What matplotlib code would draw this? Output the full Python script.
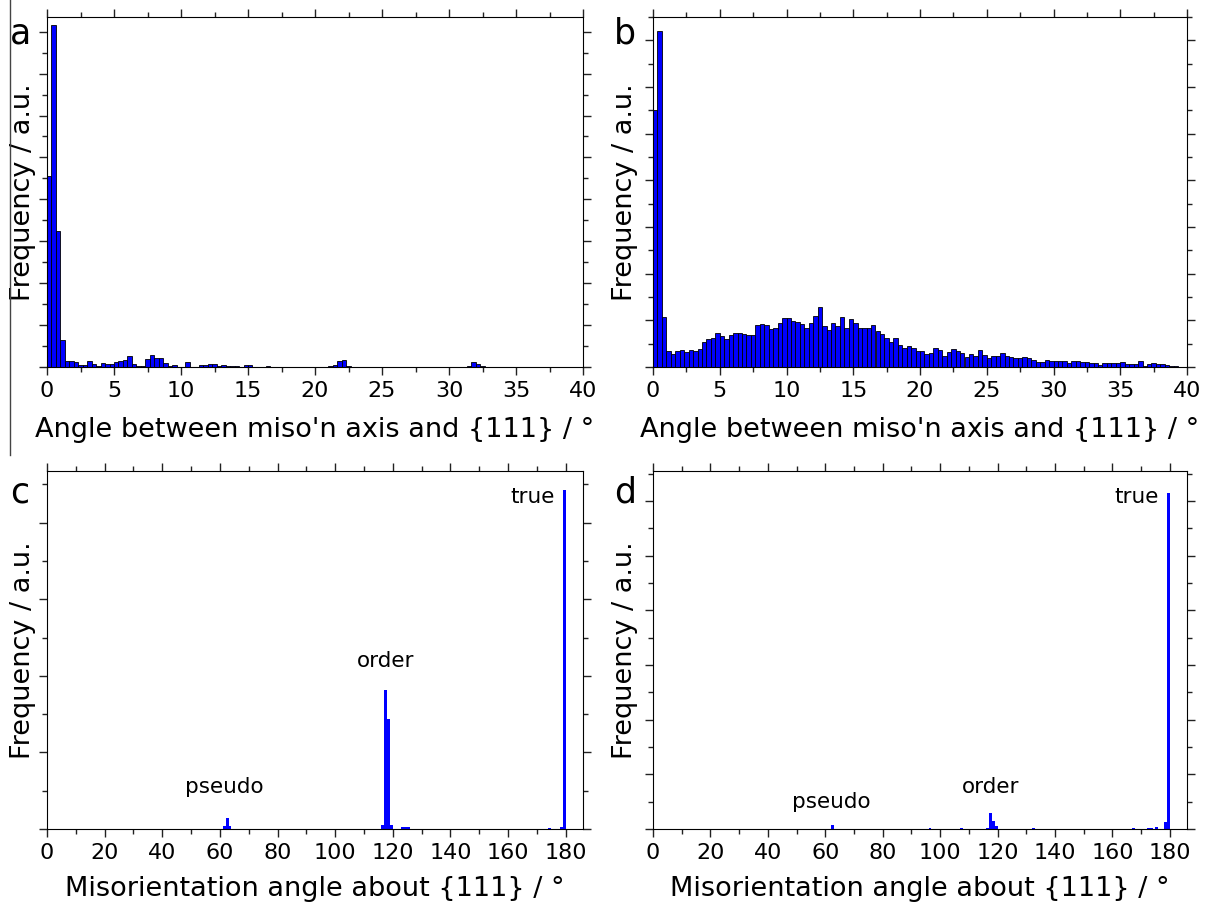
import numpy as np
import matplotlib.pyplot as plt
from matplotlib.ticker import MultipleLocator
from matplotlib.lines import Line2D

# Panel a/b: 1/3 degree bins from 0 to 40 (heights in minor-tick units)
freq_a = [
    9.1, 16.3, 6.5, 1.3, 0.29, 0.27, 0.22, 0.11, 0.11, 0.27,
    0.13, 0.04, 0.18, 0.15, 0.15, 0.24, 0.29, 0.35, 0.51, 0.13,
    0.07, 0.07, 0.36, 0.56, 0.42, 0.42, 0.20, 0.04, 0.11, 0.02,
    0.0, 0.24, 0.02, 0.0, 0.09, 0.11, 0.15, 0.16, 0.04, 0.11,
    0.07, 0.05, 0.04, 0.0, 0.09, 0.11, 0.02, 0.0, 0.02, 0.04,
    0.02, 0.0, 0.0, 0.0, 0.0, 0.0, 0.0, 0.02, 0.02, 0.0,
    0.0, 0.0, 0.02, 0.04, 0.11, 0.27, 0.33, 0.04, 0.0, 0.0,
    0.0, 0.0, 0.0, 0.0, 0.0, 0.0, 0.0, 0.0, 0.0, 0.0,
    0.0, 0.0, 0.0, 0.0, 0.0, 0.0, 0.0, 0.0, 0.0, 0.0,
    0.0, 0.0, 0.0, 0.0, 0.04, 0.24, 0.16, 0.04, 0.0, 0.0,
    0.0, 0.0, 0.0, 0.0, 0.02, 0.0, 0.0, 0.0, 0.0, 0.0,
    0.0, 0.0, 0.02, 0.0, 0.0, 0.0, 0.0, 0.0, 0.0, 0.0,
]
freq_b = [
    11.0, 14.39, 2.13, 0.67, 0.56, 0.69, 0.71, 0.63, 0.73, 0.70,
    0.77, 1.09, 1.19, 1.23, 1.46, 1.34, 1.20, 1.37, 1.44, 1.44,
    1.41, 1.39, 1.39, 1.80, 1.86, 1.81, 1.64, 1.69, 1.90, 2.11,
    2.09, 1.99, 1.93, 1.84, 1.67, 1.90, 2.19, 2.59, 1.74, 1.59,
    1.89, 1.77, 2.13, 1.67, 2.07, 1.87, 1.66, 1.66, 1.66, 1.80,
    1.53, 1.41, 1.24, 1.09, 1.23, 0.96, 0.83, 0.91, 0.83, 0.69,
    0.67, 0.54, 0.60, 0.80, 0.74, 0.47, 0.63, 0.79, 0.67, 0.61,
    0.41, 0.54, 0.47, 0.74, 0.50, 0.37, 0.46, 0.47, 0.60, 0.47,
    0.44, 0.40, 0.40, 0.43, 0.39, 0.30, 0.23, 0.21, 0.29, 0.27,
    0.24, 0.24, 0.24, 0.19, 0.26, 0.26, 0.21, 0.21, 0.17, 0.16,
    0.10, 0.19, 0.17, 0.17, 0.17, 0.21, 0.13, 0.11, 0.11, 0.24,
    0.06, 0.13, 0.16, 0.11, 0.14, 0.10, 0.06, 0.03, 0.02, 0.02,
]

# Panel c/d: 1 degree bins, only non-empty bins listed (left edge, height)
bins_c = [61, 62, 63, 116, 117, 118, 119, 123, 124, 125, 174, 178, 179]
freq_c = [0.07, 0.29, 0.07, 0.10, 3.63, 2.87, 0.10, 0.04, 0.04, 0.04, 0.02, 0.04, 8.85]
bins_d = [62, 96, 107, 116, 117, 118, 119, 132, 167, 172, 173, 175, 178, 179]
freq_d = [0.15, 0.04, 0.02, 0.04, 0.58, 0.30, 0.10, 0.02, 0.02, 0.02, 0.02, 0.06, 0.24, 12.3]

labels_cd = ["pseudo", "order", "true"]

W, H = 1207, 906
fig = plt.figure(figsize=(W / 100, H / 100), dpi=100)

LABEL_FS = 19.5
TICK_FS = 16


def box(l, t, r, b):
    return [l / W, 1 - b / H, (r - l) / W, (b - t) / H]


def style(ax, xmaj, xmin, ymax, xlabel, pad):
    ax.xaxis.set_major_locator(MultipleLocator(xmaj))
    ax.xaxis.set_minor_locator(MultipleLocator(xmin))
    ax.yaxis.set_major_locator(MultipleLocator(2))
    ax.yaxis.set_minor_locator(MultipleLocator(1))
    ax.set_ylim(0, ymax)
    ax.tick_params(which="both", direction="out", top=True, right=True,
                   labelleft=False, labelsize=TICK_FS, width=1.0, color="#222222")
    ax.tick_params(which="major", length=5.8, pad=4)
    ax.tick_params(which="minor", length=3.6)
    ax.set_ylabel("Frequency / a.u.", fontsize=LABEL_FS)
    ax.set_xlabel(xlabel, fontsize=LABEL_FS, labelpad=pad)


edges_ab = np.linspace(0, 40, 121)
xlab_ab = "Angle between miso'n axis and {111} / \u00b0"
xlab_cd = "Misorientation angle about {111} / \u00b0"

ax_a = fig.add_axes(box(47, 17, 583, 367))
ax_a.bar(edges_ab[:-1], freq_a, width=1 / 3, align="edge", color="#0000ff",
         edgecolor="black", linewidth=0.6)
ax_a.set_xlim(0, 40)
style(ax_a, 5, 2.5, 16.7, xlab_ab, 11.5)
ax_a.yaxis.set_label_coords(-0.021, 0.5)

ax_b = fig.add_axes(box(653, 17, 1187, 367))
ax_b.bar(edges_ab[:-1], freq_b, width=1 / 3, align="edge", color="#0000ff",
         edgecolor="black", linewidth=0.6)
ax_b.set_xlim(0, 40)
style(ax_b, 5, 2.5, 15.0, xlab_ab, 11.5)
ax_b.yaxis.set_label_coords(-0.028, 0.5)

ax_c = fig.add_axes(box(47, 471, 583, 829))
ax_c.bar(bins_c, freq_c, width=1, align="edge", color="#0000ff", linewidth=0)
ax_c.set_xlim(0, 186)
style(ax_c, 20, 10, 9.35, xlab_cd, 9.5)
ax_c.yaxis.set_label_coords(-0.021, 0.5)
ax_c.text(61.6, 1.1, labels_cd[0], fontsize=15.5, ha="center", va="center")
ax_c.text(117.5, 4.4, labels_cd[1], fontsize=15.5, ha="center", va="center")
ax_c.text(168.5, 8.67, labels_cd[2], fontsize=15.5, ha="center", va="center")

ax_d = fig.add_axes(box(653, 471, 1187, 829))
ax_d.bar(bins_d, freq_d, width=1, align="edge", color="#0000ff", linewidth=0)
ax_d.set_xlim(0, 186)
style(ax_d, 20, 10, 13.1, xlab_cd, 9.5)
ax_d.yaxis.set_label_coords(-0.028, 0.5)
ax_d.text(62.2, 0.99, labels_cd[0], fontsize=15.5, ha="center", va="center")
ax_d.text(117.7, 1.54, labels_cd[1], fontsize=15.5, ha="center", va="center")
ax_d.text(168.4, 12.16, labels_cd[2], fontsize=15.5, ha="center", va="center")

# panel letters
for letter, x, y in [("a", 10, 43), ("b", 614, 43), ("c", 10, 503), ("d", 614, 503)]:
    fig.text(x / W, 1 - y / H, letter, fontsize=25, va="baseline", ha="left")

# stray vertical rule at the far left
fig.add_artist(Line2D([10 / W, 10 / W], [1, 1 - 455 / H], color="#444444", lw=1.0))

fig.savefig("out.png", dpi=100)
